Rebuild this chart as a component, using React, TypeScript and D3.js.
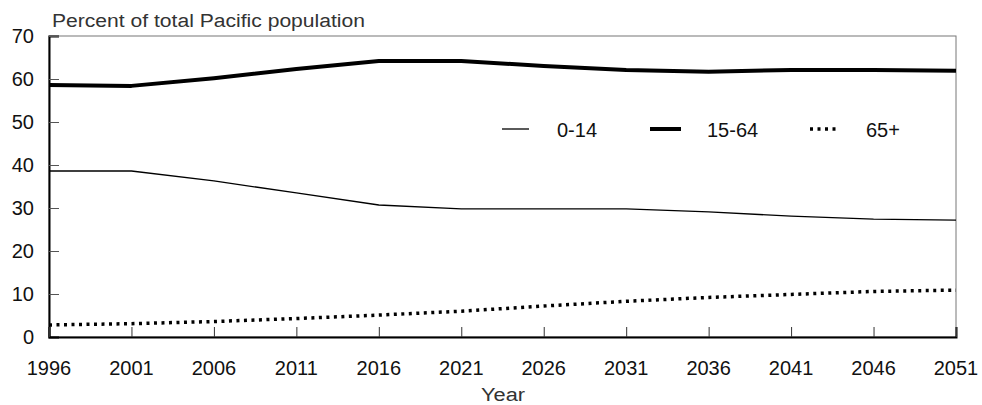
import React, { useEffect, useRef } from "react";
import * as d3 from "d3";

// values (percent of total Pacific population)
const years = [1996, 2001, 2006, 2011, 2016, 2021, 2026, 2031, 2036, 2041, 2046, 2051];
const age0to14 = [38.6, 38.6, 36.3, 33.5, 30.7, 29.8, 29.8, 29.8, 29.1, 28.1, 27.4, 27.2];
const age15to64 = [58.6, 58.4, 60.2, 62.3, 64.2, 64.2, 63.0, 62.1, 61.7, 62.1, 62.1, 61.9];
const age65plus = [2.8, 3.1, 3.6, 4.3, 5.1, 6.0, 7.2, 8.3, 9.2, 9.9, 10.6, 10.9];
const yTicks = [0, 10, 20, 30, 40, 50, 60, 70];

const seriesList = [
  { name: "0-14", values: age0to14, width: 1.3, dash: null },
  { name: "15-64", values: age15to64, width: 4, dash: null },
  { name: "65+", values: age65plus, width: 3.5, dash: "3,4.5" },
];

const width = 982, height = 405;
const margin = { top: 36, right: 26, bottom: 68, left: 49 };

const App: React.FC = () => {
  const ref = useRef<SVGSVGElement>(null);

  useEffect(() => {
    const svg = d3.select(ref.current);
    svg.selectAll("*").remove();

    const x = d3.scaleLinear().domain([1996, 2051]).range([margin.left, width - margin.right]);
    const y = d3.scaleLinear().domain([0, 70]).range([height - margin.bottom, margin.top]);
    const font = "'Liberation Sans', Arial, sans-serif";

    // thin frame on top/right
    svg.append("rect")
      .attr("x", margin.left).attr("y", margin.top)
      .attr("width", x(2051) - margin.left).attr("height", y(0) - margin.top)
      .attr("fill", "none").attr("stroke", "#777").attr("stroke-width", 1);

    // y axis, ticks pointing inward
    const yAxis = svg.append("g")
      .attr("transform", `translate(${margin.left},0)`)
      .call(d3.axisRight(y).tickValues(yTicks).tickSize(10).tickFormat(() => ""));
    yAxis.select(".domain").attr("stroke", "#000").attr("stroke-width", 2);
    yAxis.selectAll(".tick line").attr("stroke", "#555");
    svg.append("g").selectAll("text").data(yTicks).join("text")
      .attr("x", 34).attr("y", (d) => y(d) + 7)
      .attr("text-anchor", "end")
      .attr("font-family", font).attr("font-size", 20).attr("fill", "#111")
      .text((d) => d);

    // x axis, ticks pointing up
    const xAxis = svg.append("g")
      .attr("transform", `translate(0,${y(0)})`)
      .call(d3.axisTop(x).tickValues(years).tickSize(10).tickFormat(() => ""));
    xAxis.select(".domain").attr("stroke", "#000").attr("stroke-width", 2);
    xAxis.selectAll(".tick line").attr("stroke", "#333");
    svg.append("g").selectAll("text").data(years).join("text")
      .attr("x", (d) => x(d)).attr("y", 375)
      .attr("text-anchor", "middle")
      .attr("font-family", font).attr("font-size", 20).attr("fill", "#111")
      .text((d) => d);

    // lines
    const line = d3.line<number>()
      .x((_, i) => x(years[i]))
      .y((d) => y(d));
    seriesList.forEach((s) => {
      const p = svg.append("path")
        .datum(s.values)
        .attr("d", line)
        .attr("fill", "none")
        .attr("stroke", "#000")
        .attr("stroke-width", s.width)
        .attr("stroke-linejoin", "round");
      if (s.dash) p.attr("stroke-dasharray", s.dash);
    });

    // legend
    const legendX = [502, 650, 810];
    const legendLabelX = [557, 707, 866];
    const lens = [27, 31, 28];
    seriesList.forEach((s, i) => {
      const l = svg.append("line")
        .attr("x1", legendX[i]).attr("x2", legendX[i] + lens[i])
        .attr("y1", 129).attr("y2", 129)
        .attr("stroke", "#000").attr("stroke-width", s.width);
      if (s.dash) l.attr("stroke-dasharray", s.dash);
      svg.append("text")
        .attr("x", legendLabelX[i]).attr("y", 137)
        .attr("font-family", font).attr("font-size", 20).attr("fill", "#111")
        .text(s.name);
    });

    // titles
    svg.append("text")
      .attr("x", 52).attr("y", 27)
      .attr("font-family", font).attr("font-size", 18).attr("fill", "#333")
      .attr("textLength", 313).attr("lengthAdjust", "spacingAndGlyphs")
      .text("Percent of total Pacific population");
    svg.append("text")
      .attr("x", 481).attr("y", 401)
      .attr("font-family", font).attr("font-size", 18).attr("fill", "#333")
      .attr("textLength", 44).attr("lengthAdjust", "spacingAndGlyphs")
      .text("Year");
  }, []);

  return (
    <svg ref={ref} width={width} height={height}
      style={{ position: "absolute", left: 0, top: 0, background: "#fff" }} />
  );
};

export default App;
